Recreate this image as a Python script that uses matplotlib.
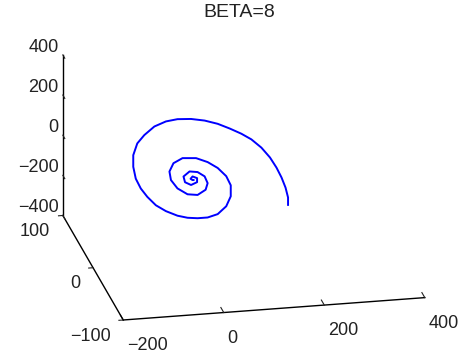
import matplotlib
matplotlib.use('Agg')
import matplotlib.pyplot as plt

title = "BETA=8"
x_vals = [188, 188, 183, 175, 165, 152, 135, 115, 95, 72, 48, 22, -5, -32, -55, -78, -98,
          -112, -120, -120, -115, -105, -92, -75, -55, -32, -12, 8, 28, 48, 65, 74, 74,
          65, 48, 28, 5, -22, -40, -48, -45, -32, -12, 8, 24, 28, 22, 8, -8, -20, -17,
          -5, 7, 7, -2, -6, -2, 0]
y_vals = [0] * len(x_vals)
z_vals = [-159, -122, -72, -20, 31, 84, 136, 181, 213, 243, 271, 292, 305, 309, 302, 281, 242,
          203, 146, 88, 28, -23, -67, -112, -145, -172, -186, -192, -192, -179, -143, -95, -40,
          7, 51, 84, 108, 113, 91, 51, 8, -36, -69, -76, -53, -21, 14, 38, 44, 21, -8,
          -24, -12, 8, 18, 7, 0, 0]
x_ticks = [-200, 0, 200, 400]
y_ticks = [-100, 0, 100]
z_ticks = [-400, -200, 0, 200, 400]

plt.rcParams['font.family'] = ['Liberation Sans', 'DejaVu Sans']
fig = plt.figure(figsize=(4.62, 3.51), dpi=100)
ax = fig.add_axes([0.018, 0.01, 1, 0.95], projection='3d')
ax.set_proj_type('ortho')
ax.view_init(elev=21, azim=-101.7)
ax.set_box_aspect((320.5, 310, 179), zoom=1.344)
ax.plot(x_vals, y_vals, z_vals, color='#0000ff', lw=1.4)
try:
    ax.set_xlim(x_ticks[0], x_ticks[-1], view_margin=0)
    ax.set_ylim(y_ticks[0], y_ticks[-1], view_margin=0)
    ax.set_zlim(z_ticks[0], z_ticks[-1], view_margin=0)
except TypeError:
    ax.set_xlim(x_ticks[0], x_ticks[-1])
    ax.set_ylim(y_ticks[0], y_ticks[-1])
    ax.set_zlim(z_ticks[0], z_ticks[-1])
ax.set_xticks(x_ticks)
ax.set_yticks(y_ticks)
ax.set_zticks(z_ticks)
ax.grid(False)
for axis in (ax.xaxis, ax.yaxis, ax.zaxis):
    axis.set_pane_color((1, 1, 1, 0))
    axis.pane.set_edgecolor((1, 1, 1, 0))
    axis.line.set_color('black')
    axis.line.set_linewidth(1.0)

# tick marks pointing outward like the reference
ax.zaxis._get_tickdir = lambda position: 1
ax.xaxis._axinfo['tick']['inward_factor'] = 0
ax.xaxis._axinfo['tick']['outward_factor'] = 0.6
ax.yaxis._axinfo['tick']['inward_factor'] = 0.18
ax.yaxis._axinfo['tick']['outward_factor'] = 0
ax.zaxis._axinfo['tick']['inward_factor'] = 0.4
ax.zaxis._axinfo['tick']['outward_factor'] = 0

# label offset directions
ax.xaxis._axmask = lambda: [False, True, True]
ax.yaxis._axmask = lambda: [True, False, True]
ax.zaxis._axmask = lambda: [False, True, False]

ax.tick_params(labelsize=13, colors='#222222')
ax.xaxis.set_tick_params(pad=0.2)
ax.yaxis.set_tick_params(pad=-2.8)
ax.zaxis.set_tick_params(pad=1)
for lab in ax.xaxis.get_ticklabels():
    lab.set_ha('left'); lab.set_va('top')
for lab in ax.yaxis.get_ticklabels():
    lab.set_ha('right'); lab.set_va('top')
for lab in ax.zaxis.get_ticklabels():
    lab.set_ha('right'); lab.set_va('center')

fig.text(0.518, 0.965, title, ha='center', va='center', fontsize=14, color='#222222')
fig.savefig('out.png', dpi=100)
